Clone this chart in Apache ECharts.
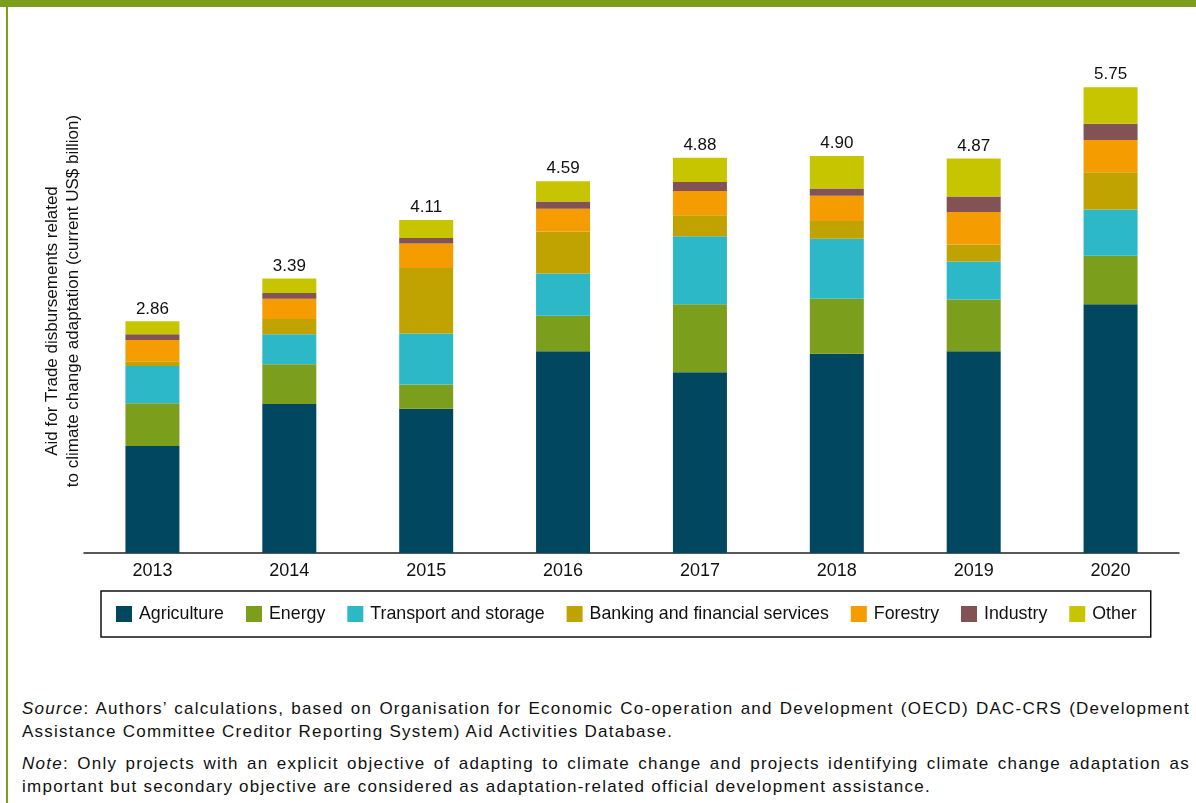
<!DOCTYPE html>
<html>
<head>
<meta charset="utf-8">
<script src="https://cdn.jsdelivr.net/npm/echarts@6/dist/echarts.min.js"></script>
<style>
  html, body { margin: 0; padding: 0; background: #fff; }
  #frame { position: relative; width: 1196px; height: 803px; overflow: hidden; }
  #topbar { position: absolute; left: 0; top: 0; width: 1196px; height: 7px; background: #7b9e1c; }
  #leftbar { position: absolute; left: 6px; top: 0; width: 2px; height: 803px; background: #7b9e1c; }
  #chart { position: absolute; left: 0; top: 0; width: 1196px; height: 680px; }
  #notes { position: absolute; left: 22px; top: 697px; width: 1168px;
           font-family: "Liberation Sans", Arial, sans-serif; font-size: 17px;
           letter-spacing: 1.25px; color: #111; }
  #notes .ln { text-align: justify; text-align-last: justify; line-height: 23px; white-space: nowrap; }
  #notes .last { text-align: left; text-align-last: left; }
  #notes .gap { height: 9px; }
</style>
</head>
<body>
<div id="frame">
  <div id="chart"></div>
  <div id="topbar"></div>
  <div id="leftbar"></div>
  <div id="notes">
    <div class="ln"><i>Source</i>: Authors’ calculations, based on Organisation for Economic Co-operation and Development (OECD) DAC-CRS (Development</div>
    <div class="ln last">Assistance Committee Creditor Reporting System) Aid Activities Database.</div>
    <div class="gap"></div>
    <div class="ln"><i>Note</i>: Only projects with an explicit objective of adapting to climate change and projects identifying climate change adaptation as</div>
    <div class="ln last">important but secondary objective are considered as adaptation-related official development assistance.</div>
  </div>
</div>
<script>
// Aid for Trade disbursements related to climate change adaptation, US$ billion
const years = ['2013', '2014', '2015', '2016', '2017', '2018', '2019', '2020'];
const agriculture = [1.32, 1.84, 1.78, 2.49, 2.23, 2.46, 2.49, 3.07];
const energy      = [0.53, 0.49, 0.30, 0.44, 0.84, 0.68, 0.64, 0.60];
const transport   = [0.46, 0.37, 0.63, 0.52, 0.84, 0.74, 0.47, 0.57];
const banking     = [0.05, 0.19, 0.81, 0.52, 0.26, 0.22, 0.21, 0.46];
const forestry    = [0.27, 0.25, 0.30, 0.28, 0.30, 0.31, 0.40, 0.40];
const industry    = [0.07, 0.07, 0.07, 0.09, 0.11, 0.09, 0.19, 0.20];
const other       = [0.16, 0.18, 0.22, 0.25, 0.30, 0.40, 0.47, 0.45];

const sectors = [
  { name: 'Agriculture', data: agriculture, color: '#00475f' },
  { name: 'Energy', data: energy, color: '#7b9e1c' },
  { name: 'Transport and storage', data: transport, color: '#2cb8c6' },
  { name: 'Banking and financial services', data: banking, color: '#c0a200' },
  { name: 'Forestry', data: forestry, color: '#f59c00' },
  { name: 'Industry', data: industry, color: '#825254' },
  { name: 'Other', data: other, color: '#c6c500' }
];

// Bar totals, shown above each stack
const totals = years.map((_, i) => sectors.reduce((s, sec) => s + sec.data[i], 0));

const FONT = '"Liberation Sans", Arial, sans-serif';
const chart = echarts.init(document.getElementById('chart'), null, { renderer: 'canvas' });

const series = sectors.map((sec, k) => ({
  name: sec.name,
  type: 'bar',
  stack: 'total',
  barWidth: 54,
  data: sec.data,
  itemStyle: { color: sec.color },
  emphasis: { disabled: true },
  label: k === sectors.length - 1 ? {
    show: true,
    position: 'top',
    distance: 4,
    fontFamily: FONT,
    fontSize: 17,
    color: '#111',
    formatter: p => totals[p.dataIndex].toFixed(2)
  } : { show: false }
}));

const titleStyle = { fontFamily: FONT, fontSize: 17, fill: '#111', align: 'center', verticalAlign: 'middle' };

chart.setOption({
  animation: false,
  textStyle: { fontFamily: FONT },
  grid: { left: 84, right: 17, top: 67, height: 486 },
  xAxis: {
    type: 'category',
    data: years,
    axisLine: { lineStyle: { color: '#222', width: 1.5 } },
    axisTick: { show: false },
    axisLabel: { color: '#111', fontSize: 18, fontFamily: FONT, margin: 9 }
  },
  yAxis: {
    type: 'value',
    min: 0,
    max: 6,
    show: false,
    splitLine: { show: false }
  },
  legend: {
    left: 101,
    top: 591,
    padding: [14, 14, 14, 15],
    borderColor: '#111',
    borderWidth: 1.5,
    itemWidth: 16,
    itemHeight: 16,
    itemGap: 22,
    icon: 'rect',
    selectedMode: false,
    textStyle: { fontFamily: FONT, fontSize: 17.8, color: '#111', padding: [0, 0, 0, 2] },
    data: sectors.map(s => s.name)
  },
  graphic: [{
    type: 'text',
    x: 52,
    y: 321,
    rotation: Math.PI / 2,
    style: Object.assign({ text: 'Aid for Trade disbursements related' }, titleStyle)
  }, {
    type: 'text',
    x: 73,
    y: 301,
    rotation: Math.PI / 2,
    style: Object.assign({ text: 'to climate change adaptation (current US$ billion)' }, titleStyle)
  }],
  series: series
});
</script>
</body>
</html>
